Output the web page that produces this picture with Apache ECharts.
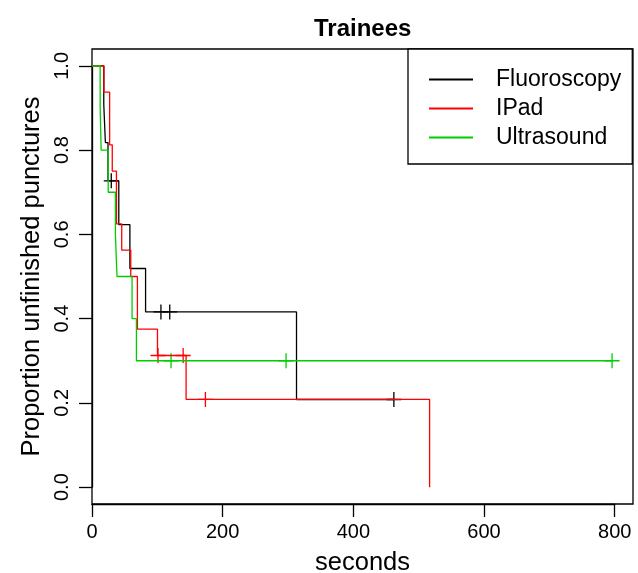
<!DOCTYPE html>
<html>
<head>
<meta charset="utf-8">
<title>Trainees</title>
<script src="https://cdn.jsdelivr.net/npm/echarts@6/dist/echarts.min.js"></script>
</head>
<body style="margin:0;background:#fff">
<div id="container" style="width:638px;height:573px"></div>
<script>
// Kaplan-Meier curves: time of each step (seconds) and proportion after it
var fluoroTimes = [0, 18, 20.5, 24.5, 41, 58, 82, 313, 462];
var fluoroSurv  = [1, 0.909, 0.818, 0.727, 0.623, 0.519, 0.416, 0.208, 0.208];
var fluoroCensTimes = [29.5, 105.5, 119, 462];
var fluoroCensSurv  = [0.727, 0.416, 0.416, 0.208];

var ipadTimes = [0, 18.3, 27, 31, 37.4, 45.5, 59.3, 69.5, 100.2, 144, 516.7];
var ipadSurv  = [1, 0.9375, 0.8125, 0.75, 0.625, 0.5625, 0.5, 0.375, 0.3125, 0.2083, 0];
var ipadCensTimes = [101, 139.5, 173.6];
var ipadCensSurv  = [0.3125, 0.3125, 0.2083];

var usTimes = [0, 12.5, 14, 24.8, 35.8, 38.3, 61.3, 68, 796];
var usSurv  = [1, 0.9, 0.8, 0.7, 0.6, 0.5, 0.4, 0.3, 0.3];
var usCensTimes = [121, 297, 796];
var usCensSurv  = [0.3, 0.3, 0.3];

var groupNames = ['Fluoroscopy', 'IPad', 'Ultrasound'];
var groupColors = ['#000000', '#ff0000', '#00cd00'];

// axis ranges (R style: box a bit wider than the ticked range)
var xRange = [0, 828];
var yRange = [-0.04, 1.04];
var xTickRange = [0, 800];
var yTickRange = [0, 1];

var font = '"Liberation Sans", Arial, Helvetica, sans-serif';
var plusMark = 'path://M-0.65,-7.5 L0.65,-7.5 L0.65,-0.65 L7.5,-0.65 L7.5,0.65 L0.65,0.65 L0.65,7.5 L-0.65,7.5 L-0.65,0.65 L-7.5,0.65 L-7.5,-0.65 L-0.65,-0.65 Z';

var W = 638, H = 573;
var box = {left: 92, right: 5, top: 49, bottom: 69};

function zip(a, b) {
    var out = [];
    for (var i = 0; i < a.length; i++) out.push([a[i], b[i]]);
    return out;
}
function xPx(v) {
    return box.left + (v - xRange[0]) / (xRange[1] - xRange[0]) * (W - box.right - box.left);
}
function yPx(v) {
    return (H - box.bottom) - (v - yRange[0]) / (yRange[1] - yRange[0]) * (H - box.bottom - box.top);
}

var curves = [[fluoroTimes, fluoroSurv], [ipadTimes, ipadSurv], [usTimes, usSurv]];
var censored = [[fluoroCensTimes, fluoroCensSurv], [ipadCensTimes, ipadCensSurv], [usCensTimes, usCensSurv]];

var series = [];
for (var g = 0; g < 3; g++) {
    series.push({
        name: groupNames[g],
        type: 'line',
        step: 'end',
        showSymbol: false,
        color: groupColors[g],
        lineStyle: {width: 1.3, color: groupColors[g]},
        data: zip(curves[g][0], curves[g][1])
    });
}
for (var g = 0; g < 3; g++) {
    series.push({
        name: groupNames[g] + ' censored',
        type: 'scatter',
        symbol: plusMark,
        symbolSize: 15,
        itemStyle: {color: groupColors[g], opacity: 1},
        data: zip(censored[g][0], censored[g][1])
    });
}

var hidden = {
    splitLine: {show: false},
    axisLine: {show: false, onZero: false},
    axisTick: {show: false},
    axisLabel: {show: false}
};
var tickLine = {color: '#000', width: 1.3};

var chart = echarts.init(document.getElementById('container'));
var option = {
    animation: false,
    title: {
        text: 'Trainees',
        left: 309,
        top: 12,
        textStyle: {fontFamily: font, fontSize: 24, fontWeight: 'bold', color: '#000'}
    },
    legend: {
        data: groupNames,
        orient: 'vertical',
        left: 408,
        top: 49,
        padding: [19, 11, 15, 21],
        itemGap: 6,
        itemWidth: 44,
        itemHeight: 2,
        icon: 'rect',
        borderColor: '#000',
        borderWidth: 1.3,
        borderRadius: 0,
        backgroundColor: '#fff',
        textStyle: {fontFamily: font, fontSize: 23, color: '#000', padding: [0, 0, 0, 18]}
    },
    grid: [{
        left: box.left, right: box.right, top: box.top, bottom: box.bottom,
        outerBoundsMode: 'none',
        show: true, borderColor: '#000', borderWidth: 1.3
    }, {
        // only carries the R-style axes: line from first to last tick
        left: box.left,
        right: W - xPx(xTickRange[1]),
        top: yPx(yTickRange[1]),
        bottom: H - yPx(yTickRange[0]),
        outerBoundsMode: 'none',
        show: false
    }],
    xAxis: [echarts.util.extend({
        gridIndex: 0,
        type: 'value',
        min: xRange[0],
        max: xRange[1],
        name: 'seconds',
        nameLocation: 'middle',
        nameGap: 46,
        nameTextStyle: {fontFamily: font, fontSize: 25.5, color: '#000'}
    }, hidden), {
        gridIndex: 1,
        type: 'value',
        position: 'bottom',
        offset: (H - box.bottom) - yPx(yTickRange[0]),
        min: xTickRange[0],
        max: xTickRange[1],
        interval: 200,
        splitLine: {show: false},
        axisLine: {show: true, onZero: false, lineStyle: tickLine},
        axisTick: {show: true, inside: false, length: 13, lineStyle: tickLine},
        axisLabel: {margin: 18, fontFamily: font, fontSize: 20, color: '#000'}
    }],
    yAxis: [echarts.util.extend({
        gridIndex: 0,
        type: 'value',
        min: yRange[0],
        max: yRange[1],
        name: 'Proportion unfinished punctures',
        nameLocation: 'middle',
        nameGap: 47,
        nameTextStyle: {fontFamily: font, fontSize: 25.5, color: '#000'}
    }, hidden), {
        gridIndex: 1,
        type: 'value',
        position: 'left',
        min: yTickRange[0],
        max: yTickRange[1],
        interval: 0.2,
        splitLine: {show: false},
        axisLine: {show: true, onZero: false, lineStyle: tickLine},
        axisTick: {show: true, inside: false, length: 13, lineStyle: tickLine},
        axisLabel: {
            rotate: 90, margin: 20,
            fontFamily: font, fontSize: 20, color: '#000',
            formatter: function (v) { return v.toFixed(1); }
        }
    }],
    series: series
};
chart.setOption(option);
</script>
</body>
</html>
